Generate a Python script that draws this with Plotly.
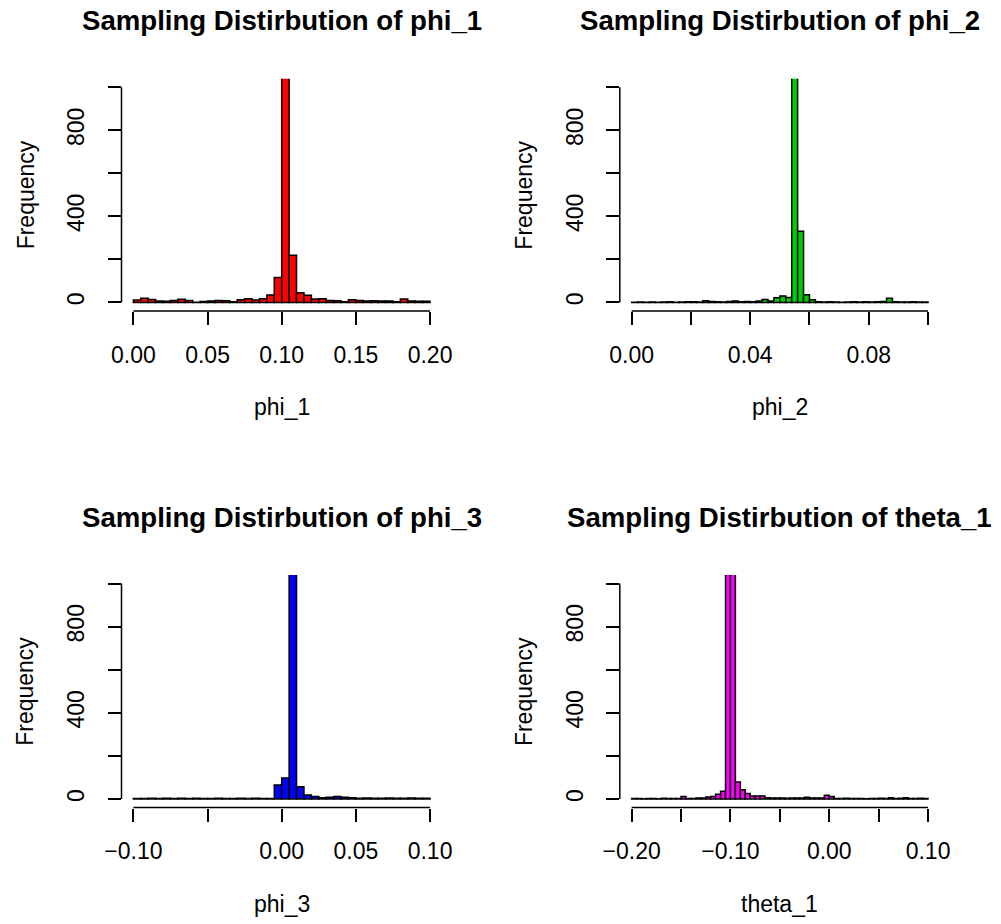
import numpy as np
import plotly.graph_objects as go

# ---------------- data ----------------
# phi_1: bins of width 0.005 starting at 0.00
phi1_start, phi1_width = 0.0, 0.005
phi1_counts = [11, 19, 14, 6, 5, 9, 15, 9, 1, 4,
               7, 9, 8, 3, 12, 17, 11, 17, 34, 116,
               1200, 219, 45, 33, 16, 17, 9, 8, 3, 12,
               9, 6, 8, 6, 7, 3, 16, 6, 5, 5]

# phi_2: bins of width 0.002 starting at 0.00
phi2_start, phi2_width = 0.0, 0.002
phi2_counts = [1, 2, 1, 2, 1, 2, 3, 1, 2, 3,
               3, 2, 8, 4, 3, 2, 4, 7, 3, 4,
               3, 6, 14, 7, 22, 30, 23, 1200, 331, 36,
               12, 3, 2, 3, 2, 1, 2, 3, 2, 3,
               2, 3, 4, 19, 3, 2, 2, 3, 2, 2]

# phi_3: bins of width 0.005 starting at -0.10
phi3_start, phi3_width = -0.10, 0.005
phi3_counts = [2, 2, 3, 2, 3, 2, 3, 2, 3, 2,
               2, 3, 2, 2, 3, 2, 3, 2, 2, 65,
               98, 1200, 57, 19, 12, 6, 8, 12, 8, 6,
               3, 4, 3, 3, 4, 3, 3, 4, 3, 3]

# theta_1: bins of width 0.005 starting at -0.20
theta1_start, theta1_width = -0.20, 0.005
theta1_counts = [2, 2, 1, 2, 2, 1, 3, 2, 2, 2,
                 12, 2, 2, 4, 4, 9, 11, 22, 36, 1200,
                 1200, 79, 43, 26, 14, 14, 14, 6, 4, 4,
                 4, 3, 5, 4, 4, 8, 4, 4, 4, 17,
                 12, 2, 2, 3, 2, 2, 2, 1, 2, 2,
                 3, 2, 6, 2, 3, 6, 2, 2, 3, 2]

names = ["phi_1", "phi_2", "phi_3", "theta_1"]
titles = ["Sampling Distirbution of phi_1", "Sampling Distirbution of phi_2",
          "Sampling Distirbution of phi_3", "Sampling Distirbution of theta_1"]
colors = ["#FF0000", "#00CD00", "#0000FF", "#FF00FF"]
xlims = [(0.0, 0.2), (0.0, 0.1), (-0.1, 0.1), (-0.2, 0.1)]
xtick_vals = [[0.0, 0.05, 0.10, 0.15, 0.20],
              [0.0, 0.02, 0.04, 0.06, 0.08, 0.10],
              [-0.10, -0.05, 0.0, 0.05, 0.10],
              [-0.20, -0.15, -0.10, -0.05, 0.0, 0.05, 0.10]]
xtick_text = [["0.00", "0.05", "0.10", "0.15", "0.20"],
              ["0.00", "", "0.04", "", "0.08", ""],
              ["\u22120.10", "", "0.00", "0.05", "0.10"],
              ["\u22120.20", "", "\u22120.10", "", "0.00", "", "0.10"]]
ytick_vals = [0, 200, 400, 600, 800, 1000]
ytick_text = ["0", "", "400", "", "800", ""]
ylim = (0, 1000)

starts = [phi1_start, phi2_start, phi3_start, theta1_start]
widths = [phi1_width, phi2_width, phi3_width, theta1_width]
counts = [phi1_counts, phi2_counts, phi3_counts, theta1_counts]

# ---------------- layout geometry ----------------
W, H = 1001, 924
cols_px = [(121.5, 441.9), (619.8, 939.9)]
rows_px = [(78.7, 311.0), (575.0, 807.6)]

FONT = "Liberation Sans, Arial, sans-serif"
FS = 23
FS_TITLE = 27.6
fig = go.Figure()
layout = dict(width=W, height=H, margin=dict(l=0, r=0, t=0, b=0, autoexpand=False),
              paper_bgcolor="white", plot_bgcolor="white", showlegend=False,
              font=dict(family=FONT, size=FS, color="black"))
annotations = []
shapes = []

for i in range(4):
    r, c = divmod(i, 2)
    sfx = "" if i == 0 else str(i + 1)
    xa, ya = "x" + sfx, "y" + sfx
    cnt = np.array(counts[i], dtype=float)
    edges = starts[i] + widths[i] * np.arange(len(cnt))
    centers = edges + widths[i] / 2
    fig.add_trace(go.Bar(x=centers, y=cnt, width=widths[i], xaxis=xa, yaxis=ya,
                         marker=dict(color=colors[i], line=dict(color="black", width=1.5)),
                         hoverinfo="skip"))
    x0, x1 = xlims[i]
    dx = 0.04 * (x1 - x0)
    dy = 0.04 * (ylim[1] - ylim[0])
    xd = [cols_px[c][0] / W, cols_px[c][1] / W]
    yd = [1 - rows_px[r][1] / H, 1 - rows_px[r][0] / H]
    layout["xaxis" + sfx] = dict(domain=xd, anchor=ya, range=[x0 - dx, x1 + dx],
                                 automargin=False,
                                 showgrid=False, zeroline=False, showline=False,
                                 tickmode="array", tickvals=xtick_vals[i], ticktext=xtick_text[i],
                                 ticks="outside", ticklen=13, tickwidth=1.5, tickcolor="black",
                                 ticklabelstandoff=10,
                                 tickfont=dict(family=FONT, size=FS, color="black"))
    layout["yaxis" + sfx] = dict(domain=yd, anchor=xa, range=[ylim[0] - dy, ylim[1] + dy],
                                 automargin=False,
                                 showgrid=False, zeroline=False, showline=False,
                                 tickmode="array", tickvals=ytick_vals, ticktext=ytick_text,
                                 ticks="outside", ticklen=13, tickwidth=1.5, tickcolor="black",
                                 tickangle=-90, ticklabelstandoff=14,
                                 tickfont=dict(family=FONT, size=FS, color="black"))
    # axis lines spanning first to last tick (R style)
    shapes.append(dict(type="line", xref=xa, yref=ya + " domain",
                       x0=xtick_vals[i][0], x1=xtick_vals[i][-1], y0=0, y1=0,
                       line=dict(color="black", width=1.5)))
    shapes.append(dict(type="line", xref=xa + " domain", yref=ya,
                       x0=0, x1=0, y0=ytick_vals[0], y1=ytick_vals[-1],
                       line=dict(color="black", width=1.5)))
    cx = (cols_px[c][0] + cols_px[c][1]) / 2 / W
    top = rows_px[r][0]
    bot = rows_px[r][1]
    # main title
    annotations.append(dict(text="<b>" + titles[i] + "</b>", xref="paper", yref="paper",
                            x=cx, y=1 - (top - 58) / H, xanchor="center", yanchor="middle",
                            showarrow=False, font=dict(family=FONT, size=FS_TITLE, color="black")))
    # x label
    annotations.append(dict(text=names[i], xref="paper", yref="paper",
                            x=cx, y=1 - (bot + 96) / H, xanchor="center", yanchor="middle",
                            showarrow=False, font=dict(family=FONT, size=FS, color="black")))
    # y label
    annotations.append(dict(text="Frequency", xref="paper", yref="paper",
                            x=(cols_px[c][0] - 96) / W, y=1 - (top + bot) / 2 / H,
                            xanchor="center", yanchor="middle", textangle=-90,
                            showarrow=False, font=dict(family=FONT, size=FS, color="black")))

layout["annotations"] = annotations
layout["shapes"] = shapes
fig.update_layout(**layout)
fig.write_html("out.html")
